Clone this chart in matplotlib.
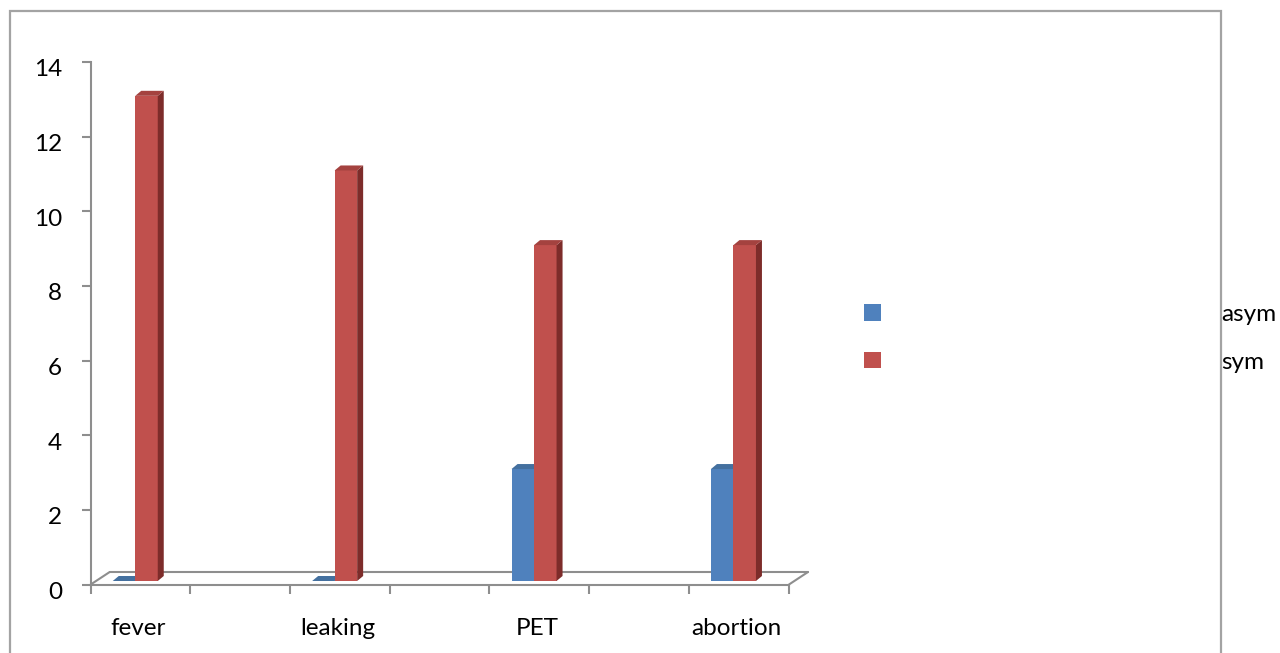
import matplotlib
matplotlib.use("Agg")
import matplotlib.pyplot as plt
import matplotlib.transforms as mtransforms
from matplotlib.patches import Polygon, Rectangle, Patch
import numpy as np

categories = ["fever", "leaking", "PET", "abortion"]
asym = [0, 0, 3, 3]
sym = [13, 11, 9, 9]
series_labels = ["asym", "sym"]
yticks = [0, 2, 4, 6, 8, 10, 12, 14]

# excel-ish palette: front, side, top
blue = ("#4f81bd", "#385d8a", "#44709f")
red = ("#c0504d", "#7d2c2a", "#a4423f")
axis_grey = "#8e8e8e"

FS = 17.5
plt.rcParams["font.family"] = ["Lato", "DejaVu Sans"]
plt.rcParams["font.size"] = FS

DPI = 100
fig = plt.figure(figsize=(12.8, 6.53), dpi=DPI)
W, H = 1280, 653

# axes spans the front face of the floor
x0_px, x1_px = 90.7, 789.0
y0_px, y1_px = 584.5, 62.0
ax = fig.add_axes([x0_px / W, 1 - y0_px / H, (x1_px - x0_px) / W, (y0_px - y1_px) / H])

px_per_cat = 199.4
xmin = (x0_px - 138.0) / px_per_cat
xmax = xmin + (x1_px - x0_px) / px_per_cat
ax.set_xlim(xmin, xmax)
ax.set_ylim(0, 14)
px_per_unit = (y0_px - y1_px) / 14.0

def dx(px):
    return px / px_per_cat

def dy(px):
    return px / px_per_unit

for s in ("top", "right"):
    ax.spines[s].set_visible(False)
for s in ("left", "bottom"):
    ax.spines[s].set_color(axis_grey)
    ax.spines[s].set_linewidth(1.5)

# floor of the 3d box
depth_x, depth_y = dx(19), dy(12.5)
floor_kw = dict(color=axis_grey, lw=1.5, clip_on=False, zorder=2, solid_capstyle="round")
ax.plot([xmin + depth_x, xmax + depth_x], [depth_y, depth_y], **floor_kw)
ax.plot([xmin, xmin + depth_x], [0, depth_y], **floor_kw)
ax.plot([xmax, xmax + depth_x], [0, depth_y], **floor_kw)

# bars with a little depth
bw = dx(22.5)
lift = dy(3.5)
bdx, bdy = dx(6), dy(5)
x = np.arange(len(categories))
offsets = [dx(-14), dx(8.5)]


def draw_bars(xc, vals, cols, z):
    ax.bar(xc, vals, width=bw, bottom=lift, color=cols[0], zorder=z, clip_on=False)
    for xi, v in zip(xc, vals):
        l, r = xi - bw / 2, xi + bw / 2
        t = lift + v
        side = Polygon([(r, lift), (r + bdx, lift + bdy), (r + bdx, t + bdy), (r, t)],
                       closed=True, facecolor=cols[1], edgecolor="none", zorder=z, clip_on=False)
        top = Polygon([(l, t), (l + bdx, t + bdy), (r + bdx, t + bdy), (r, t)],
                      closed=True, facecolor=cols[2], edgecolor="none", zorder=z, clip_on=False)
        ax.add_patch(side)
        ax.add_patch(top)


draw_bars(x + offsets[0], asym, blue, 3)
draw_bars(x + offsets[1], sym, red, 4)

# ticks
ax.set_yticks(yticks)
ax.tick_params(axis="y", length=6.5, width=1.5, color=axis_grey, pad=14, labelsize=FS)
ax.set_xticks(xmin + 0.5 * np.arange(8))
ax.set_xticklabels([])
ax.tick_params(axis="x", which="major", length=6.5, width=1.5, color=axis_grey)
ax.set_xticks(x, minor=True)
ax.set_xticklabels(categories, minor=True)
ax.tick_params(axis="x", which="minor", length=0, pad=24, labelsize=FS)

shift = mtransforms.ScaledTranslation(0, -6 / DPI, fig.dpi_scale_trans)
for lab in ax.get_yticklabels():
    lab.set_transform(lab.get_transform() + shift)

# chart area border
fig.patches.append(Rectangle((9.5 / W, -0.1), (1221 - 9.5) / W, 1.1 - 11.5 / H,
                             transform=fig.transFigure, fill=False,
                             edgecolor="#a3a3a3", lw=1.6))

handles = [Patch(facecolor=blue[0]), Patch(facecolor=red[0])]
fig.legend(handles, series_labels, loc="upper left",
           bbox_to_anchor=(864 / W, 1 - 304 / H), frameon=False,
           handlelength=0.7, handleheight=0.66, handletextpad=14.0,
           labelspacing=1.1, borderpad=0, borderaxespad=0, fontsize=FS)

fig.savefig("out.png", dpi=DPI)
